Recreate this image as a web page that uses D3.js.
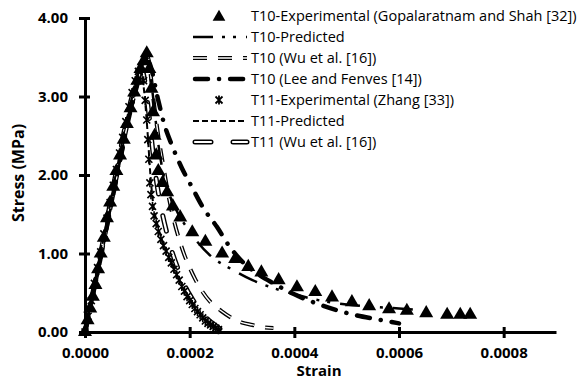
<!DOCTYPE html>
<html><head><meta charset="utf-8">
<script src="https://cdn.jsdelivr.net/npm/d3@7"></script>
<style>
body{margin:0;background:#fff}
svg{display:block}
</style></head>
<body>
<svg id="chart" width="585" height="380"></svg>
<script>
// ---------- DATA ----------
const xTicks = [0, 0.0002, 0.0004, 0.0006, 0.0008];
const yTicks = [0, 1, 2, 3, 4];
const legendLabels = [
  "T10-Experimental (Gopalaratnam and Shah [32])",
  "T10-Predicted",
  "T10 (Wu et al. [16])",
  "T10 (Lee and Fenves [14])",
  "T11-Experimental (Zhang [33])",
  "T11-Predicted",
  "T11 (Wu et al. [16])"
];
// T10 experimental [strain, stress MPa]
const t10Exp = [[0,0],[0.000005,0.15],[0.00001,0.3],[0.000015,0.45],[0.00002,0.6],[0.000025,0.8],[0.00003,1.0],[0.000036,1.2],[0.000042,1.45],[0.000048,1.65],[0.000054,1.85],[0.00006,2.05],[0.000067,2.25],[0.000074,2.45],[0.00008,2.65],[0.000087,2.85],[0.000094,3.05],[0.0001,3.2],[0.000106,3.35],[0.000112,3.45],[0.000118,3.55],
 [0.000123,3.35],[0.000127,3.1],[0.00013,2.8],[0.000133,2.5],[0.000136,2.25],[0.00014,2.05],[0.000148,1.9],[0.000157,1.78],[0.000168,1.6],[0.000182,1.46],[0.000205,1.27],[0.00023,1.15],[0.000262,1.0],[0.000287,0.93],[0.000312,0.83],[0.000337,0.76],[0.00037,0.66],[0.000405,0.57],[0.00044,0.51],[0.000472,0.44],[0.00051,0.38],[0.000543,0.33],[0.000581,0.29],[0.000615,0.27],[0.000652,0.24],[0.000692,0.22],[0.000717,0.22],[0.000736,0.22]];
// T11 experimental
const t11Exp = [[0,0],[0.000006,0.2],[0.000012,0.4],[0.000018,0.62],[0.000024,0.82],[0.00003,1.02],[0.000036,1.25],[0.000042,1.45],[0.000048,1.65],[0.000054,1.87],[0.00006,2.07],[0.000066,2.28],[0.000072,2.48],[0.000078,2.68],[0.000084,2.87],[0.00009,3.05],[0.000096,3.2],[0.000102,3.32],[0.000108,3.38],
 [0.000112,3.2],[0.000115,2.95],[0.000118,2.7],[0.00012,2.45],[0.000122,2.2],[0.000124,1.9],[0.000126,1.75],[0.000129,1.6],[0.000132,1.48],[0.000136,1.38],[0.00014,1.28],[0.000145,1.18],[0.00015,1.1],[0.000155,1.03],[0.00016,0.95],[0.000165,0.88],[0.00017,0.8],[0.000175,0.73],[0.00018,0.66],[0.000185,0.58],[0.00019,0.52],[0.000195,0.45],[0.0002,0.4],[0.000205,0.35],[0.00021,0.3],[0.000215,0.26],[0.00022,0.22],[0.000225,0.18],[0.00023,0.14],[0.000235,0.11],[0.00024,0.09],[0.000245,0.07],[0.00025,0.05],[0.000255,0.03]];
const t10Pred = [[0,0],[0.00003,0.95],[0.00006,1.95],[0.00009,2.9],[0.000118,3.5],[0.00013,3.0],[0.00014,2.4],[0.00015,2.0],[0.00017,1.62],[0.0002,1.28],[0.00024,0.97],[0.00028,0.8],[0.00032,0.66],[0.00036,0.56],[0.0004,0.48],[0.00045,0.4],[0.0005,0.35],[0.00055,0.32],[0.0006,0.3],[0.00064,0.28]];
const t10Wu = [[0,0],[0.00003,0.95],[0.00006,1.95],[0.00009,2.9],[0.00012,3.5],[0.00013,3.0],[0.00014,2.5],[0.00015,2.1],[0.00016,1.72],[0.00017,1.42],[0.00018,1.18],[0.00019,0.98],[0.0002,0.82],[0.00021,0.68],[0.00022,0.56],[0.00024,0.38],[0.00026,0.27],[0.00028,0.18],[0.0003,0.12],[0.00032,0.09],[0.00034,0.06],[0.00036,0.05]];
const t10Lee = [[0,0],[0.00003,0.95],[0.00006,1.95],[0.00009,2.9],[0.00012,3.45],[0.00014,2.95],[0.00015,2.68],[0.000166,2.38],[0.000185,2.09],[0.000204,1.85],[0.000226,1.58],[0.000252,1.34],[0.000275,1.1],[0.0003,0.9],[0.00033,0.74],[0.00036,0.62],[0.0004,0.48],[0.00044,0.37],[0.00048,0.28],[0.00052,0.21],[0.00056,0.16],[0.0006,0.11]];
const t11Pred = [[0,0],[0.00003,1.0],[0.00006,2.05],[0.00009,3.0],[0.000106,3.35],[0.000114,3.0],[0.00012,2.5],[0.000125,2.0],[0.00013,1.65],[0.000138,1.38],[0.00015,1.12],[0.000162,0.93],[0.000175,0.74],[0.00019,0.54],[0.000205,0.37],[0.00022,0.23],[0.000235,0.13],[0.00025,0.06],[0.00026,0.03]];
const t11Wu = [[0,0],[0.00003,1.0],[0.00006,2.05],[0.00009,3.0],[0.000108,3.35],[0.00012,2.9],[0.000128,2.4],[0.000135,2.0],[0.000145,1.6],[0.000155,1.3],[0.000165,1.05],[0.000178,0.8],[0.00019,0.6],[0.000205,0.42],[0.00022,0.27],[0.000235,0.16],[0.00025,0.08],[0.00026,0.03]];

// ---------- CHART ----------
const svg = d3.select("#chart");
const x = d3.scaleLinear().domain([0, 0.0009]).range([85, 556]);
const y = d3.scaleLinear().domain([0, 4]).range([332, 18]);
const tickFont = "'Open Sans', sans-serif";

// axes
const xAxis = svg.append("g").attr("transform", `translate(0,${y(0)})`)
  .call(d3.axisBottom(x).tickValues(xTicks).tickFormat(d3.format(".4f")).tickSize(0).tickPadding(15));
const yAxis = svg.append("g").attr("transform", `translate(${x(0)},0)`)
  .call(d3.axisLeft(y).tickValues(yTicks).tickFormat(d3.format(".2f")).tickSize(0).tickPadding(17));
[xAxis, yAxis].forEach(g => {
  g.select(".domain").attr("stroke", "#000").attr("stroke-width", 3);
  g.selectAll("text").attr("font-family", tickFont).attr("font-weight", 700).attr("font-size", 15).attr("fill", "#000");
});
xAxis.selectAll(".tick").append("line").attr("y1", -5).attr("y2", 6).attr("stroke", "#000").attr("stroke-width", 3);
yAxis.selectAll(".tick").append("line").attr("x1", -6).attr("x2", 5).attr("stroke", "#000").attr("stroke-width", 3);

svg.append("text").attr("x", 319).attr("y", 376).attr("text-anchor", "middle")
  .attr("font-family", tickFont).attr("font-weight", 700).attr("font-size", 15).text("Strain");
svg.append("text").attr("transform", "translate(24,173) rotate(-90)").attr("text-anchor", "middle")
  .attr("font-family", tickFont).attr("font-weight", 700).attr("font-size", 16).text("Stress (MPa)");

// line styles
const line = d3.line().x(d => x(d[0])).y(d => y(d[1])).curve(d3.curveMonotoneX);
const styles = {
  t10Pred: [{w: 2.5, c: "#000", dash: "20,9,3,8,3,10", cap: "butt"}],
  t10Wu: [{w: 4, c: "#000", dash: "14,11", cap: "butt"}, {w: 1.4, c: "#fff", dash: "14,11", cap: "butt"}],
  t10Lee: [{w: 4.5, c: "#000", dash: "13,11,0.1,11", cap: "round"}],
  t11Pred: [{w: 2, c: "#000", dash: "6,3", cap: "butt"}],
  t11Wu: [{w: 5, c: "#000", dash: "16,22", cap: "round"}, {w: 2.2, c: "#fff", dash: "16,22", cap: "round"}]
};
function drawLine(g, data, st) {
  st.forEach(s => g.append("path").datum(data).attr("d", line).attr("fill", "none")
    .attr("stroke", s.c).attr("stroke-width", s.w).attr("stroke-dasharray", s.dash).attr("stroke-linecap", s.cap));
}
const plot = svg.append("g");
drawLine(plot, t11Wu, styles.t11Wu);
drawLine(plot, t10Wu, styles.t10Wu);
drawLine(plot, t11Pred, styles.t11Pred);
drawLine(plot, t10Pred, styles.t10Pred);
drawLine(plot, t10Lee, styles.t10Lee);

// asterisk marker
const asterPath = "M-3.5,-3.5L3.5,3.5M-3.5,3.5L3.5,-3.5M0,-4.5L0,4.5";
plot.selectAll(".ast").data(t11Exp).join("path").attr("class", "ast")
  .attr("transform", d => `translate(${x(d[0])},${y(d[1])})`)
  .attr("d", asterPath).attr("stroke", "#000").attr("stroke-width", 1.6).attr("fill", "none");
const tri = d3.symbol().type(d3.symbolTriangle).size(85);
plot.selectAll(".tri").data(t10Exp).join("path").attr("class", "tri")
  .attr("transform", d => `translate(${x(d[0])},${y(d[1])})`)
  .attr("d", tri).attr("fill", "#000");

// legend
const leg = svg.append("g");
const rowY = d => 16 + d * 21;
const lx0 = 193, lx1 = 247, tx = 251;
legendLabels.forEach((lab, i) => {
  leg.append("text").attr("x", tx).attr("y", rowY(i)).attr("dy", "0.35em")
    .attr("font-family", "'Open Sans', sans-serif").attr("font-size", 14.5).attr("fill", "#000").text(lab);
});
// symbols
const triLeg = d3.symbol().type(d3.symbolTriangle).size(70);
leg.append("path").attr("transform", `translate(219,${rowY(0)+1})`).attr("d", triLeg).attr("fill", "#000");
leg.append("path").attr("transform", `translate(219,${rowY(4)})`).attr("d", asterPath).attr("stroke", "#000").attr("stroke-width", 1.8).attr("fill", "none");
const segLine = d3.line().x(d => d[0]).y(d => d[1]);
[["t10Pred", 1], ["t10Wu", 2], ["t10Lee", 3], ["t11Pred", 5], ["t11Wu", 6]].forEach(([k, i]) => {
  const pts = [[lx0 + (styles[k][0].cap === "round" ? 2 : 0), rowY(i)], [lx1, rowY(i)]];
  styles[k].forEach(s => leg.append("path").datum(pts).attr("d", segLine).attr("fill", "none")
    .attr("stroke", s.c).attr("stroke-width", s.w).attr("stroke-dasharray", s.dash).attr("stroke-linecap", s.cap));
});
</script>
</body></html>
